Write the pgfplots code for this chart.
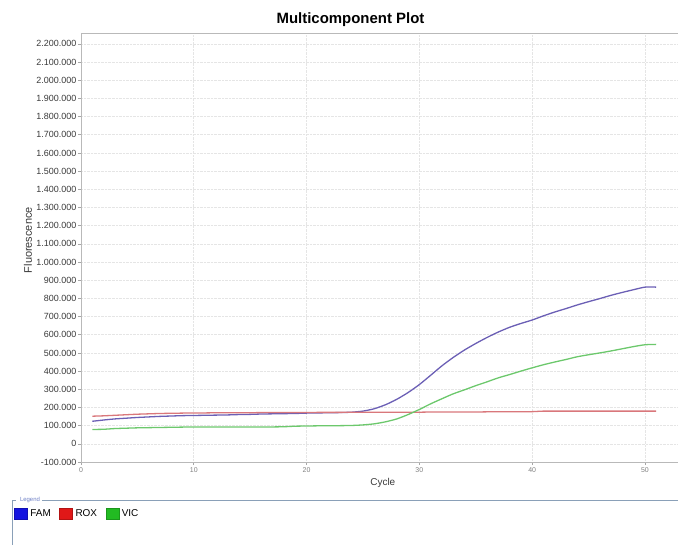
\documentclass[border=0pt]{standalone}
\usepackage{fontspec}
\setmainfont{Liberation Sans}
\usepackage{pgfplots}
\pgfplotsset{compat=1.18}

\definecolor{famline}{HTML}{6B5FB5}
\definecolor{roxline}{HTML}{D9777B}
\definecolor{vicline}{HTML}{6CC86C}
\definecolor{famkey}{HTML}{1414E0}
\definecolor{roxkey}{HTML}{E01818}
\definecolor{vickey}{HTML}{22BB22}
\definecolor{legframe}{HTML}{8AA0B8}
\definecolor{ticktext}{HTML}{3A3A3A}

\begin{document}
\begin{tikzpicture}
\useasboundingbox (0,0) rectangle (678bp,-545bp);
\begin{axis}[
  at={(81bp,-462bp)}, anchor=south west,
  scale only axis, width=600bp, height=429bp,
  xmin=0, xmax=53.2, ymin=-100000, ymax=2260000,
  xtick={0,10,20,30,40,50}, ytick distance=100000,
  scaled y ticks=false,
  /pgf/number format/.cd, fixed, precision=0, 1000 sep={.}, assume math mode=true,
  /pgfplots/.cd,
  tick pos=left, tick align=outside, major tick length=3bp,
  every tick/.style={draw=gray!70, line width=0.6bp},
  axis line style={draw=gray!55, line width=0.8bp},
  grid=major,
  major grid style={draw=gray!20, densely dotted, line width=0.6bp},
  yticklabel style={font=\fontsize{9}{10}\selectfont, text=ticktext, inner xsep=1.5bp},
  xticklabel style={font=\fontsize{7}{8}\selectfont, text=gray, inner ysep=2bp},
  xlabel={Cycle},
  ylabel={Fluorescence},
  every axis x label/.style={at={(axis description cs:0.503,-0.049)}, anchor=center,
    font=\fontsize{10}{12}\selectfont, text=ticktext},
  every axis y label/.style={at={(axis description cs:-0.0883,0.517)}, anchor=center,
    rotate=90, font=\fontsize{11}{13}\selectfont, text=ticktext},
  legend columns=3,
  legend style={at={(axis description cs:-0.1117,-0.12)}, anchor=west,
    draw=none, fill=none, inner xsep=0pt, font=\fontsize{10}{12}\selectfont,
    /tikz/every even column/.append style={column sep=6.5bp},
    /tikz/every odd column/.append style={column sep=0.8bp}},
  legend image code/.code={\draw[#1] (0bp,-5.5bp) rectangle (13bp,5.5bp);},
]
\addplot[famline, line width=1.3bp, smooth, tension=0.4, forget plot] coordinates {
(1,124000) (2,131000) (3,137000) (4,141000) (5,145000) (6,148000) (7,151000)
(8,153000) (9,155000) (10,156000) (11,157000) (12,158000) (13,159000) (14,161000)
(15,162000) (16,164000) (17,165000) (18,166000) (19,167000) (20,169000) (21,170000)
(22,171000) (23,172000) (24,174000) (25,180000) (26,193000) (27,215000) (28,245000)
(29,282000) (30,326000) (31,377000) (32,429000) (33,475000) (34,516000) (35,552000)
(36,585000) (37,615000) (38,641000) (39,662000) (40,681000) (41,704000) (42,725000)
(43,744000) (44,764000) (45,782000) (46,799000) (47,817000) (48,833000) (49,848000)
(50,862000) (51,862000)};
\addplot[roxline, line width=1.3bp, forget plot] coordinates {
(1,152000) (2,154000) (3,157000) (4,160000) (5,163000) (6,165000) (7,167000)
(8,168000) (9,169000) (10,170000) (11,170000) (12,171000) (13,171000) (14,171000)
(15,171000) (16,172000) (17,172000) (18,172000) (19,172000) (20,172000) (21,173000)
(22,173000) (23,173000) (24,174000) (25,174000) (26,174000) (27,174000) (28,174000)
(29,174000) (30,174000) (31,175000) (32,175000) (33,175000) (34,175000) (35,175000)
(36,176000) (37,176000) (38,176000) (39,176000) (40,177000) (41,180000) (42,180000)
(43,180000) (44,180000) (45,180000) (46,180000) (47,180000) (48,180000) (49,180000)
(50,180000) (51,180000)};
\addplot[vicline, line width=1.3bp, smooth, tension=0.4, forget plot] coordinates {
(1,79000) (2,80000) (3,84000) (4,86000) (5,88000) (6,89000) (7,90000)
(8,91000) (9,92000) (10,93000) (11,93000) (12,93000) (13,93000) (14,93000)
(15,93000) (16,93000) (17,93000) (18,94000) (19,97000) (20,98000) (21,99000)
(22,99000) (23,100000) (24,101000) (25,104000) (26,110000) (27,121000) (28,137000)
(29,161000) (30,189000) (31,220000) (32,248000) (33,275000) (34,297000) (35,320000)
(36,341000) (37,363000) (38,381000) (39,400000) (40,418000) (41,435000) (42,450000)
(43,464000) (44,479000) (45,490000) (46,500000) (47,511000) (48,523000) (49,535000)
(50,545000) (51,547000)};
\addlegendimage{draw=famkey!80!black, fill=famkey}
\addlegendentry{FAM}
\addlegendimage{draw=roxkey!80!black, fill=roxkey}
\addlegendentry{ROX}
\addlegendimage{draw=vickey!80!black, fill=vickey}
\addlegendentry{VIC}
\end{axis}
\node[font=\bfseries\fontsize{15}{18}\selectfont] at (350.5bp,-20bp) {Multicomponent Plot};
\draw[legframe, line width=0.8bp] (12bp,-560bp) -- (12bp,-500bp) -- (16bp,-500bp);
\draw[legframe, line width=0.8bp] (42bp,-500bp) -- (690bp,-500bp);
\node[font=\fontsize{6}{7}\selectfont, text=legframe!80!blue] at (30bp,-500bp) {Legend};
\end{tikzpicture}
\end{document}
